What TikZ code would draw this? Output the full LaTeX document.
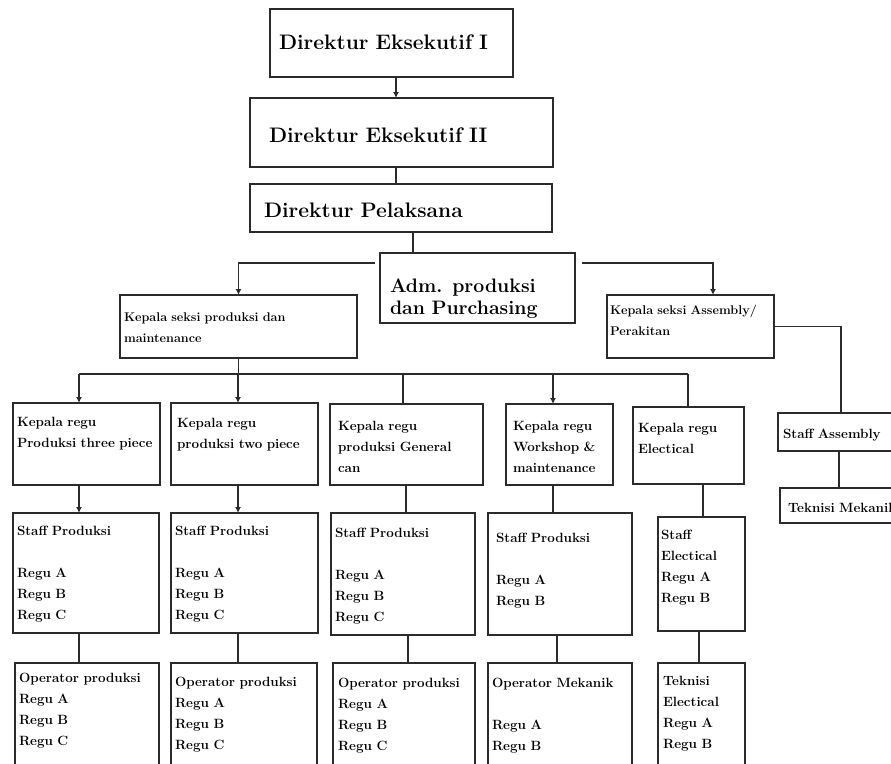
\documentclass[tikz,border=0pt]{standalone}
\usetikzlibrary{arrows.meta,calc}
\definecolor{ln}{HTML}{2B2B2B}
\tikzset{
 obox/.style={draw=ln, line width=1.8pt, rectangle, inner sep=0pt, outer sep=0pt, fill=white},
 otxt/.style={inner sep=0pt, outer sep=0pt, align=left, text width=230pt, anchor=base west, text=black},
 con/.style={draw=ln, line width=1.4pt},
 arr/.style={con, -{Latex[length=6pt,width=6pt]}},
}
\newcommand\FBig{\fontsize{21}{25}\selectfont\bfseries}
\newcommand\FAdm{\fontsize{19.5}{22}\selectfont\bfseries}
\newcommand\FKs{\fontsize{12.6}{21}\selectfont\bfseries}
\newcommand\FSm{\fontsize{13.4}{21}\selectfont\bfseries}
\newcommand\obx[5]{\node[obox, anchor=north west, minimum width={(#4-#2)*1pt}, minimum height={(#5-#3)*1pt}] (#1) at (#2,#3) {};}
\newcommand\otx[5]{\node[otxt, font=#4] (#1) at (#2,#3) {#5};}
\begin{document}
\begin{tikzpicture}[x=1pt,y=-1pt]
\useasboundingbox (0,0) rectangle (891,763);
\clip (0,0) rectangle (891,763);
% boxes
\obx{E1}{270}{9}{513}{77}
\obx{E2}{250}{98}{553}{167}
\obx{P}{250}{184}{552}{232}
\obx{Adm}{380}{253}{575}{323}
\obx{KS1}{120}{295}{357}{358}
\obx{KS2}{607}{295}{774}{358}
\obx{KA}{13}{403}{160}{485}
\obx{KB}{171}{403}{318}{485}
\obx{KC}{330}{404}{483}{485}
\obx{KD}{506}{404}{613}{485}
\obx{KE}{633}{407}{744}{484}
\obx{SA}{778}{413}{905}{451}
\obx{TM}{780}{488}{905}{523}
\obx{SPA}{13}{513}{159}{633}
\obx{SPB}{171}{513}{318}{633}
\obx{SPC}{331}{513}{475}{635}
\obx{SPD}{488}{513}{632}{635}
\obx{SPE}{658}{517}{745}{631}
\obx{OA}{15}{663}{159}{785}
\obx{OB}{171}{663}{317}{785}
\obx{OC}{333}{663}{475}{785}
\obx{OD}{488}{663}{632}{785}
\obx{OE}{658}{663}{745}{785}
% texts
\otx{tE1}{279}{49}{\FBig}{Direktur Eksekutif I}
\otx{tE2}{269}{142}{\FBig}{Direktur Eksekutif II}
\otx{tP}{264}{217}{\FBig}{Direktur Pelaksana}
\otx{tAdm}{390}{292}{\FAdm}{Adm. produksi\\dan Purchasing}
\otx{tKS1}{124}{321}{\FKs}{Kepala seksi produksi dan\\maintenance}
\otx{tKS2}{610}{314}{\FKs}{Kepala seksi Assembly/\\Perakitan}
\otx{tKA}{17}{426}{\FSm}{Kepala regu\\Produksi three piece}
\otx{tKB}{177}{427}{\FSm}{Kepala regu\\produksi two piece}
\otx{tKC}{338}{430}{\FSm}{Kepala regu\\produksi General\\can}
\otx{tKD}{513}{430}{\FSm}{Kepala regu\\Workshop \&\\maintenance}
\otx{tKE}{638}{432}{\FSm}{Kepala regu\\Electical}
\otx{tSA}{783}{438}{\FSm}{Staff Assembly}
\otx{tTM}{788}{512}{\FSm}{Teknisi Mekanik}
\otx{tSPA}{17}{535}{\FSm}{Staff Produksi\\[21pt]Regu A\\Regu B\\Regu C}
\otx{tSPB}{175}{535}{\FSm}{Staff Produksi\\[21pt]Regu A\\Regu B\\Regu C}
\otx{tSPC}{335}{537}{\FSm}{Staff Produksi\\[21pt]Regu A\\Regu B\\Regu C}
\otx{tSPD}{496}{542}{\FSm}{Staff Produksi\\[21pt]Regu A\\Regu B}
\otx{tSPE}{661}{539}{\FSm}{Staff\\Electical\\Regu A\\Regu B}
\otx{tOA}{19}{682}{\FSm}{Operator produksi\\Regu A\\Regu B\\Regu C}
\otx{tOB}{175}{686}{\FSm}{Operator produksi\\Regu A\\Regu B\\Regu C}
\otx{tOC}{338}{687}{\FSm}{Operator produksi\\Regu A\\Regu B\\Regu C}
\otx{tOD}{492}{687}{\FSm}{Operator Mekanik\\[21pt]Regu A\\Regu B}
\otx{tOE}{663}{685}{\FSm}{Teknisi\\Electical\\Regu A\\Regu B}
% column coordinates
\coordinate (x396) at (396,0);
\coordinate (x413) at (413,0);
\coordinate (x713) at (713,0);
\coordinate (x79) at (79,0);
\coordinate (x238) at (238,0);
\coordinate (x403) at (403,0);
\coordinate (x406) at (406,0);
\coordinate (x408) at (408,0);
\coordinate (x553) at (553,0);
\coordinate (x557) at (557,0);
\coordinate (x699) at (699,0);
\coordinate (x703) at (703,0);
\coordinate (x839) at (839,0);
\coordinate (x841) at (841,0);
\coordinate (hl) at (375,263);
\coordinate (hr) at (582,263);
\coordinate (busL) at (79,374);
\coordinate (busR) at (688,374);
% connectors
\draw[arr] (x396 |- E1.south) -- (x396 |- E2.north);
\draw[con] (x396 |- E2.south) -- (x396 |- P.north);
\draw[con] (x413 |- P.south) -- (x413 |- Adm.north);
\draw[arr] (hl) -| (KS1.north);
\draw[arr] (hr) -| (x713 |- KS2.north);
\draw[con] (KS1.south) -- (KS1.south |- busL);
\draw[con] (busL) -- (busR);
\draw[arr] (busL) -- (busL |- KA.north);
\draw[arr] (x238 |- busL) -- (x238 |- KB.north);
\draw[con] (x403 |- busL) -- (x403 |- KC.north);
\draw[arr] (x553 |- busL) -- (x553 |- KD.north);
\draw[con] (busR) -- (busR |- KE.north);
\draw[con] (KS2.east) -| (x841 |- SA.north);
\draw[con] (x839 |- SA.south) -- (x839 |- TM.north);
\draw[arr] (x79 |- KA.south) -- (x79 |- SPA.north);
\draw[arr] (x238 |- KB.south) -- (x238 |- SPB.north);
\draw[con] (x406 |- KC.south) -- (x406 |- SPC.north);
\draw[con] (x553 |- KD.south) -- (x553 |- SPD.north);
\draw[con] (x703 |- KE.south) -- (x703 |- SPE.north);
\draw[con] (x79 |- SPA.south) -- (x79 |- OA.north);
\draw[con] (x238 |- SPB.south) -- (x238 |- OB.north);
\draw[con] (x408 |- SPC.south) -- (x408 |- OC.north);
\draw[con] (x557 |- SPD.south) -- (x557 |- OD.north);
\draw[con] (x699 |- SPE.south) -- (x699 |- OE.north);
\end{tikzpicture}
\end{document}
